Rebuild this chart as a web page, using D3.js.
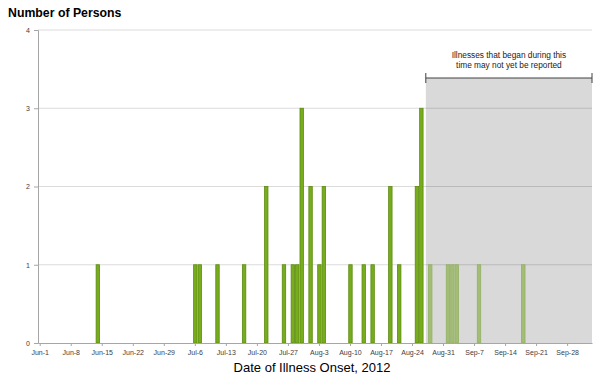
<!DOCTYPE html>
<html>
<head>
<meta charset="utf-8">
<script src="https://cdn.jsdelivr.net/npm/d3@7"></script>
<style>
  body { margin: 0; background: #fff; }
  svg { display: block; font-family: "Liberation Sans", Arial, sans-serif; }
</style>
</head>
<body>
<svg width="600" height="382"></svg>
<script>
// cases already reported (solid green)
const reportedDates = ["2012-06-14", "2012-07-06", "2012-07-07", "2012-07-11", "2012-07-17",
  "2012-07-22", "2012-07-26", "2012-07-28", "2012-07-29", "2012-07-30", "2012-08-01",
  "2012-08-03", "2012-08-04", "2012-08-10", "2012-08-13", "2012-08-15", "2012-08-19",
  "2012-08-21", "2012-08-25", "2012-08-26"];
const reportedCounts = [1, 1, 1, 1, 1, 2, 1, 1, 1, 3, 2, 1, 2, 1, 1, 1, 2, 1, 2, 3];

// cases in the "may not yet be reported" window (pale green)
const pendingDates = ["2012-08-28", "2012-09-01", "2012-09-02", "2012-09-03", "2012-09-08", "2012-09-18"];
const pendingCounts = [1, 1, 1, 1, 1, 1];

const firstDay = "2012-06-01";
const lastDay = "2012-10-03";
const shadeStart = "2012-08-27";

const tickDates = ["2012-06-01", "2012-06-08", "2012-06-15", "2012-06-22", "2012-06-29",
  "2012-07-06", "2012-07-13", "2012-07-20", "2012-07-27", "2012-08-03", "2012-08-10",
  "2012-08-17", "2012-08-24", "2012-08-31", "2012-09-07", "2012-09-14", "2012-09-21", "2012-09-28"];
const tickLabels = ["Jun-1", "Jun-8", "Jun-15", "Jun-22", "Jun-29", "Jul-6", "Jul-13", "Jul-20",
  "Jul-27", "Aug-3", "Aug-10", "Aug-17", "Aug-24", "Aug-31", "Sep-7", "Sep-14", "Sep-21", "Sep-28"];
const yTicks = [0, 1, 2, 3, 4];

const svg = d3.select("svg");
const plotLeft = 38, plotRight = 592, plotTop = 30, plotBottom = 343;

const parse = d3.timeParse("%Y-%m-%d");
const fmt = d3.timeFormat("%Y-%m-%d");
const days = d3.timeDay.range(parse(firstDay), d3.timeDay.offset(parse(lastDay), 1)).map(fmt);

const x = d3.scaleBand().domain(days).range([plotLeft, plotRight]).padding(0);
const y = d3.scaleLinear().domain([0, 4]).range([plotBottom, plotTop]);

// grey box for the reporting delay
const shadeX = x(shadeStart) + x.bandwidth() / 2;
const shadeTop = 78;
svg.append("rect")
  .attr("x", shadeX).attr("y", shadeTop)
  .attr("width", plotRight - shadeX).attr("height", plotBottom - shadeTop)
  .attr("fill", "#d9d9d9");

// gridlines
svg.append("g").selectAll("line")
  .data(yTicks.slice(1))
  .join("line")
  .attr("x1", plotLeft).attr("x2", plotRight)
  .attr("y1", d => y(d)).attr("y2", d => y(d))
  .attr("stroke", "rgba(0,0,0,0.14)")
  .attr("stroke-width", 1);

// bars
const drawBars = (dates, counts, fill, stroke) => {
  svg.append("g").selectAll("rect")
    .data(dates.map((d, i) => ({ date: d, n: counts[i] })))
    .join("rect")
    .attr("x", d => x(d.date) + 0.5)
    .attr("width", x.bandwidth() - 1)
    .attr("y", d => y(d.n))
    .attr("height", d => y(0) - y(d.n))
    .attr("fill", fill)
    .attr("stroke", stroke)
    .attr("stroke-width", 0.8);
};
drawBars(reportedDates, reportedCounts, "#77ad1c", "#5c8a10");
drawBars(pendingDates, pendingCounts, "#a3bd76", "#93b163");

// y axis
const yAxis = svg.append("g")
  .attr("transform", `translate(${plotLeft},0)`)
  .call(d3.axisLeft(y).tickValues(yTicks).tickFormat(d3.format("d")).tickSize(4).tickPadding(4));
yAxis.select(".domain").attr("stroke", "#a6a6a6");
yAxis.selectAll(".tick line").attr("stroke", "#a6a6a6");
yAxis.selectAll(".tick text").attr("fill", "#404040").style("font-size", "7px");

// x axis
const xAxis = svg.append("g")
  .attr("transform", `translate(0,${plotBottom})`)
  .call(d3.axisBottom(x).tickValues(tickDates)
    .tickFormat((d, i) => tickLabels[i]).tickSize(3).tickSizeOuter(0).tickPadding(4));
xAxis.select(".domain").attr("stroke", "#a6a6a6");
xAxis.selectAll(".tick line").attr("stroke", "#a6a6a6");
xAxis.selectAll(".tick text").attr("fill", "#404040").style("font-size", "7px");

// titles
svg.append("text")
  .attr("x", 8).attr("y", 17)
  .attr("font-size", 12.3).attr("font-weight", "bold").attr("fill", "#000")
  .text("Number of Persons");

svg.append("text")
  .attr("x", 312).attr("y", 372)
  .attr("text-anchor", "middle")
  .attr("font-size", 13).attr("fill", "#000")
  .text("Date of Illness Onset, 2012");

// annotation bracket
const bracketY = 78;
const br = svg.append("g").attr("stroke", "#404040").attr("stroke-width", 1);
br.append("line").attr("x1", shadeX).attr("x2", plotRight).attr("y1", bracketY).attr("y2", bracketY);
br.append("line").attr("x1", shadeX).attr("x2", shadeX).attr("y1", bracketY - 5).attr("y2", bracketY + 5);
br.append("line").attr("x1", plotRight).attr("x2", plotRight).attr("y1", bracketY - 5).attr("y2", bracketY + 5);

const note = svg.append("text")
  .attr("text-anchor", "middle")
  .attr("font-size", 8.3).attr("fill", "#222");
note.append("tspan").attr("x", (shadeX + plotRight) / 2).attr("y", 58).text("Illnesses that began during this");
note.append("tspan").attr("x", (shadeX + plotRight) / 2).attr("y", 68).text("time may not yet be reported");
</script>
</body>
</html>
